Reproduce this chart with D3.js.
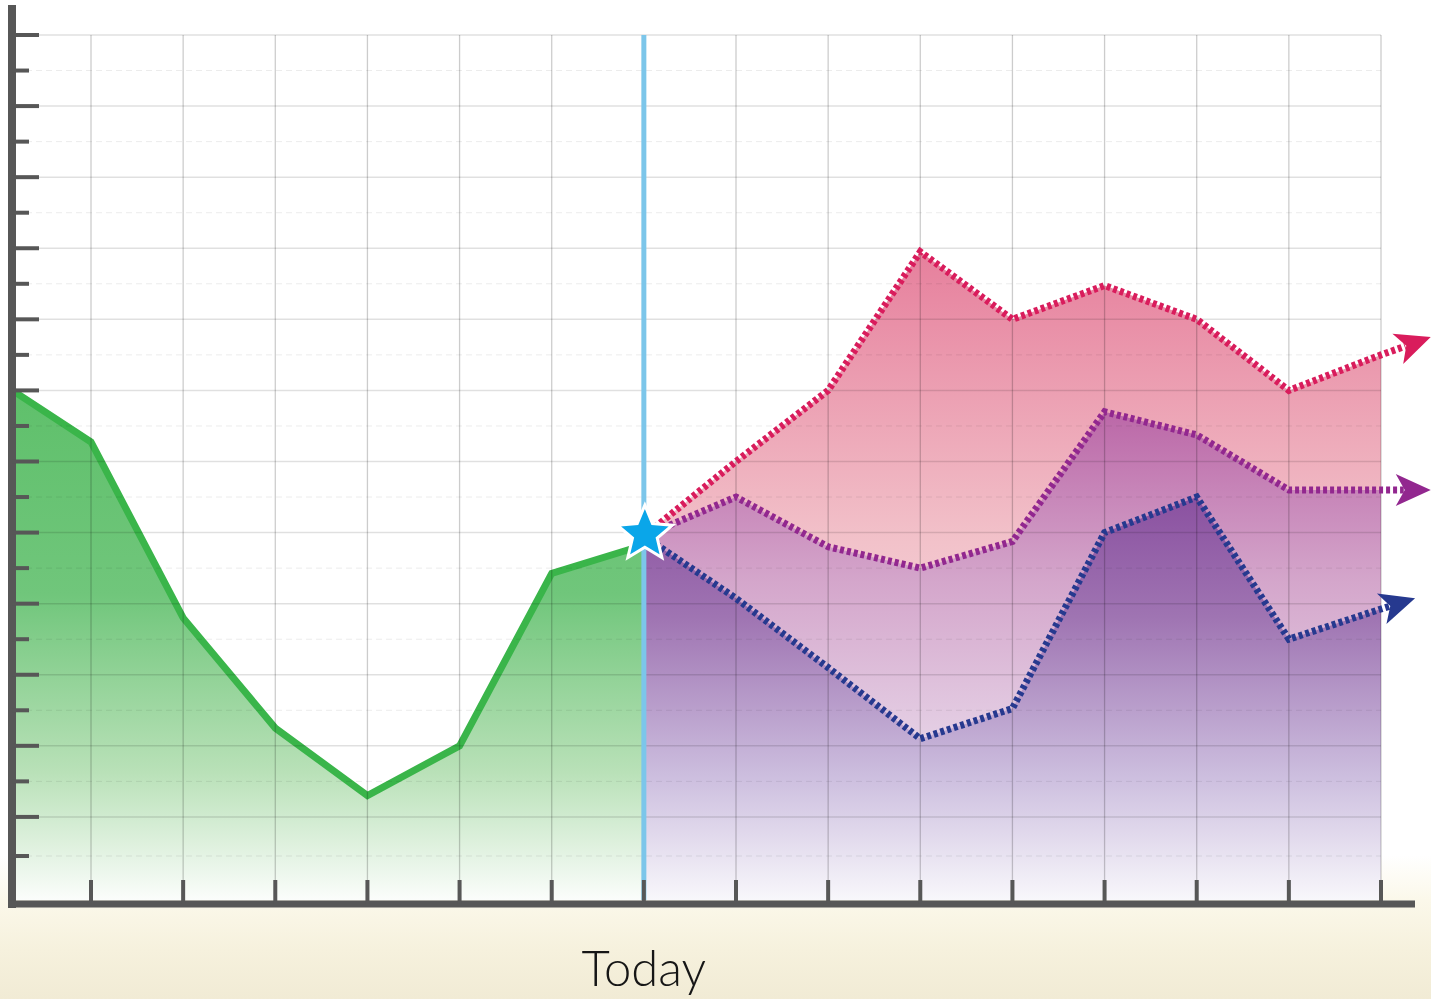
<!DOCTYPE html>
<html>
<head>
<meta charset="utf-8">
<script src="https://cdn.jsdelivr.net/npm/d3@7"></script>
<style>
  html, body { margin: 0; padding: 0; }
  body {
    width: 1431px; height: 999px; overflow: hidden;
    background: linear-gradient(to bottom, #ffffff 0px, #ffffff 855px, #fbf8ea 900px, #f6f1dd 950px, #f1ebd5 999px);
  }
  svg { display: block; }
</style>
</head>
<body>
<svg id="chart" width="1431" height="999"></svg>
<script>
// Period index: 0..14 columns, "Today" sits at index 6
const historyIdx   = [-1, 0, 1, 2, 3, 4, 5, 6];
const historyVals  = [14.25, 12.55, 7.6, 4.5, 2.6, 4.0, 8.85, 9.65];

const forecastIdx  = [6, 7, 8, 9, 10, 11, 12, 13, 14];
const highVals     = [9.9, 12.0, 14.0, 17.9, 16.0, 16.95, 16.0, 14.0, 15.0];
const midVals      = [9.9, 11.0, 9.6, 9.0, 9.75, 13.4, 12.75, 11.2, 11.2];
const lowVals      = [9.9, 8.15, 6.2, 4.2, 5.05, 10.0, 11.0, 7.0, 7.85];

// where each forecast arrow points to, beyond the last column
const arrowTipIdx  = { high: 14.54, mid: 14.54, low: 14.37 };
const arrowTipVals = { high: 15.5, mid: 11.2, low: 8.15 };

const todayIdx = 6;
const todayLabel = "Today";

const xTickVals = d3.range(0, 15);
const yMajorVals = d3.range(2, 25, 2);
const yMinorVals = [0.9].concat(d3.range(3, 24, 2));

const svg = d3.select("#chart");

const x = d3.scaleLinear().domain([0, 14]).range([91, 1381]);
const y = d3.scaleLinear().domain([0, 24]).range([888, 35]);

const axisX = 12;       // y axis position
const axisY = 904;      // x axis position
const plotBottom = 900;
const plotRight = x(14);

const defs = svg.append("defs");
function grad(id, y1, y2, stops) {
  const g = defs.append("linearGradient").attr("id", id)
    .attr("gradientUnits", "userSpaceOnUse")
    .attr("x1", 0).attr("x2", 0).attr("y1", y1).attr("y2", y2);
  stops.forEach(([o, c]) => g.append("stop").attr("offset", o).attr("stop-color", c));
}
grad("gGreen", 390, 900, [[0, "#5fc06b"], [0.4, "#70c67b"], [0.75, "#b9e1b8"], [1, "#fbfdfb"]]);
grad("gHigh", 250, 900, [[0, "#e67f9c"], [0.45, "#f2c2ca"], [1, "#fdf3f5"]]);
grad("gMid", 410, 900, [[0, "#bb67a7"], [0.35, "#d4a6cb"], [0.7, "#e6d3e7"], [1, "#f8f4f9"]]);
grad("gLow", 495, 900, [[0, "#8a50a0"], [0.3, "#9f74b2"], [0.7, "#cdbfdf"], [1, "#f8f7fb"]]);

defs.append("clipPath").attr("id", "plotClip")
  .append("rect").attr("x", axisX).attr("y", 0).attr("width", plotRight - axisX).attr("height", plotBottom);

// white plotting field
svg.append("rect").attr("x", axisX).attr("y", 0)
  .attr("width", plotRight - axisX).attr("height", plotBottom).attr("fill", "#ffffff");

const plot = svg.append("g").attr("clip-path", "url(#plotClip)");

const area = d3.area().x(d => x(d[0])).y0(plotBottom).y1(d => y(d[1]));
const line = d3.line().x(d => x(d[0])).y(d => y(d[1]));

const zip = (a, b) => a.map((v, i) => [v, b[i]]);
const history = zip(historyIdx, historyVals);
const high = zip(forecastIdx, highVals);
const mid = zip(forecastIdx, midVals);
const low = zip(forecastIdx, lowVals);

// filled bands
plot.append("path").datum(history).attr("d", area).attr("fill", "url(#gGreen)");
plot.append("path").datum(high).attr("d", area).attr("fill", "url(#gHigh)");
plot.append("path").datum(mid).attr("d", area).attr("fill", "url(#gMid)");
plot.append("path").datum(low).attr("d", area).attr("fill", "url(#gLow)");

// grid
const grid = svg.append("g");
grid.selectAll(".hmaj").data(yMajorVals).join("line")
  .attr("x1", axisX + 4).attr("x2", plotRight)
  .attr("y1", d => y(d)).attr("y2", d => y(d))
  .attr("stroke", "#000").attr("stroke-opacity", 0.12).attr("stroke-width", 1.5);
grid.selectAll(".hmin").data(yMinorVals).join("line")
  .attr("x1", axisX + 4).attr("x2", plotRight)
  .attr("y1", d => y(d)).attr("y2", d => y(d))
  .attr("stroke", "#000").attr("stroke-opacity", 0.08).attr("stroke-width", 1)
  .attr("stroke-dasharray", "6 4");
grid.selectAll(".v").data(xTickVals).join("line")
  .attr("x1", d => x(d)).attr("x2", d => x(d))
  .attr("y1", y(24)).attr("y2", plotBottom)
  .attr("stroke", "#000").attr("stroke-opacity", 0.2).attr("stroke-width", 1.3);

// today marker line
svg.append("line")
  .attr("x1", x(todayIdx)).attr("x2", x(todayIdx))
  .attr("y1", y(24)).attr("y2", plotBottom)
  .attr("stroke", "#7cc6ea").attr("stroke-width", 5);

// history line
plot.append("path").datum(history).attr("d", line)
  .attr("fill", "none").attr("stroke", "#3ab54a").attr("stroke-width", 7)
  .attr("stroke-linejoin", "miter");

// forecast lines with arrowheads
const arrowShape = "M0,0 L-35,-16 L-26,0 L-35,16 Z";
function forecast(data, key, color) {
  const last = data[data.length - 1];
  const tip = [arrowTipIdx[key], arrowTipVals[key]];
  const lx = x(last[0]), ly = y(last[1]);
  const tx = x(tip[0]), ty = y(tip[1]);
  const ang = Math.atan2(ty - ly, tx - lx);
  const stop = [tx - 27 * Math.cos(ang), ty - 27 * Math.sin(ang)];
  const pts = data.map(d => [x(d[0]), y(d[1])]).concat([stop]);
  svg.append("path").attr("d", d3.line()(pts))
    .attr("fill", "none").attr("stroke", color).attr("stroke-width", 7)
    .attr("stroke-dasharray", "4 3").attr("stroke-linejoin", "miter");
  svg.append("path").attr("d", arrowShape)
    .attr("transform", `translate(${tx},${ty}) rotate(${ang * 180 / Math.PI})`)
    .attr("fill", color);
}
forecast(low, "low", "#26398f");
forecast(mid, "mid", "#92278f");
forecast(high, "high", "#d91c5c");

// star at today's value
function starPath(cx, cy, R, r) {
  const pts = d3.range(10).map(i => {
    const a = -Math.PI / 2 + i * Math.PI / 5;
    const rad = i % 2 === 0 ? R : r;
    return [cx + rad * Math.cos(a), cy + rad * Math.sin(a)];
  });
  return d3.line()(pts) + "Z";
}
svg.append("path")
  .attr("d", starPath(x(todayIdx) + 1, y(highVals[0]) - 2, 29, 13))
  .attr("fill", "#0aa6e9").attr("stroke", "#ffffff").attr("stroke-width", 3)
  .attr("stroke-linejoin", "miter");

// axes
const axis = svg.append("g").attr("fill", "#575757");
axis.append("rect").attr("x", axisX - 4).attr("y", 5).attr("width", 8).attr("height", axisY + 4 - 5);
axis.append("rect").attr("x", axisX - 4).attr("y", axisY - 3.5).attr("width", 1415 - (axisX - 4)).attr("height", 7);
axis.selectAll(".ymaj").data(yMajorVals).join("rect")
  .attr("x", axisX).attr("y", d => y(d) - 2).attr("width", 27).attr("height", 4);
axis.selectAll(".ymin").data(yMinorVals).join("rect")
  .attr("x", axisX).attr("y", d => y(d) - 2).attr("width", 17).attr("height", 4);
axis.selectAll(".xt").data(xTickVals).join("rect")
  .attr("x", d => x(d) - 2).attr("y", 880).attr("width", 4).attr("height", axisY - 880);

svg.append("text")
  .attr("x", x(todayIdx)).attr("y", 986)
  .attr("text-anchor", "middle")
  .attr("font-family", "Lato, 'Open Sans', sans-serif")
  .attr("font-weight", 300)
  .attr("font-size", 49)
  .attr("fill", "#161616")
  .text(todayLabel);
</script>
</body>
</html>
